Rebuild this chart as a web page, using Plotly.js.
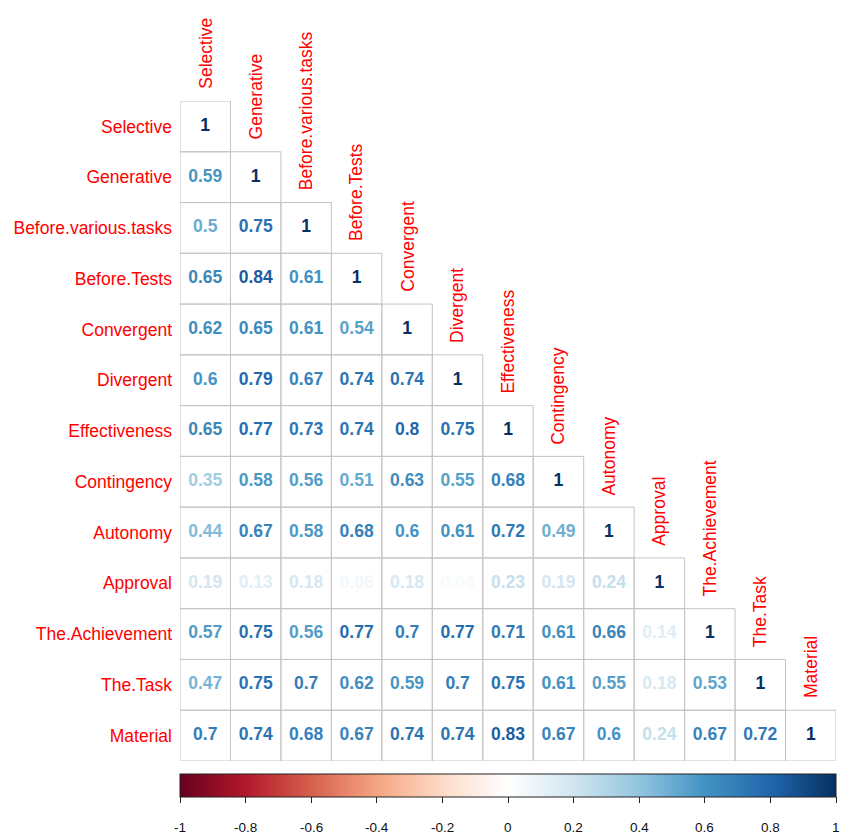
<!DOCTYPE html>
<html>
<head>
<meta charset="utf-8">
<script src="https://cdn.plot.ly/plotly-3.0.1.min.js"></script>
<style>html,body{margin:0;padding:0;background:#fff}#chart{width:844px;height:837px}</style>
</head>
<body>
<div id="chart"></div>
<script>
const variables = ["Selective","Generative","Before.various.tasks","Before.Tests","Convergent","Divergent","Effectiveness","Contingency","Autonomy","Approval","The.Achievement","The.Task","Material"];

const rowSelective = [1];
const rowGenerative = [0.59, 1];
const rowBeforeVarious = [0.5, 0.75, 1];
const rowBeforeTests = [0.65, 0.84, 0.61, 1];
const rowConvergent = [0.62, 0.65, 0.61, 0.54, 1];
const rowDivergent = [0.6, 0.79, 0.67, 0.74, 0.74, 1];
const rowEffectiveness = [0.65, 0.77, 0.73, 0.74, 0.8, 0.75, 1];
const rowContingency = [0.35, 0.58, 0.56, 0.51, 0.63, 0.55, 0.68, 1];
const rowAutonomy = [0.44, 0.67, 0.58, 0.68, 0.6, 0.61, 0.72, 0.49, 1];
const rowApproval = [0.19, 0.13, 0.18, 0.06, 0.18, 0.04, 0.23, 0.19, 0.24, 1];
const rowAchievement = [0.57, 0.75, 0.56, 0.77, 0.7, 0.77, 0.71, 0.61, 0.66, 0.14, 1];
const rowTask = [0.47, 0.75, 0.7, 0.62, 0.59, 0.7, 0.75, 0.61, 0.55, 0.18, 0.53, 1];
const rowMaterial = [0.7, 0.74, 0.68, 0.67, 0.74, 0.74, 0.83, 0.67, 0.6, 0.24, 0.67, 0.72, 1];

const colorbarTicks = [-1, -0.8, -0.6, -0.4, -0.2, 0, 0.2, 0.4, 0.6, 0.8, 1];
const colorbarTickText = ["-1","-0.8","-0.6","-0.4","-0.2","0","0.2","0.4","0.6","0.8","1"];

const rows = [rowSelective,rowGenerative,rowBeforeVarious,rowBeforeTests,rowConvergent,rowDivergent,rowEffectiveness,rowContingency,rowAutonomy,rowApproval,rowAchievement,rowTask,rowMaterial];

const rdbuHex = ["#67001F","#B2182B","#D6604D","#F4A582","#FDDBC7","#FFFFFF","#D1E5F0","#92C5DE","#4393C3","#2166AC","#053061"];
const colorscale = rdbuHex.map((c, k) => [k / (rdbuHex.length - 1), c]);

function hexToRgb(h){return [parseInt(h.slice(1,3),16),parseInt(h.slice(3,5),16),parseInt(h.slice(5,7),16)];}
function colorFor(v){
  const t = (v + 1) / 2 * (rdbuHex.length - 1);
  const k = Math.min(Math.floor(t), rdbuHex.length - 2);
  const f = t - k;
  const a = hexToRgb(rdbuHex[k]), b = hexToRgb(rdbuHex[k+1]);
  const c = a.map((x, n) => Math.round(x + (b[n] - x) * f));
  return `rgb(${c[0]},${c[1]},${c[2]})`;
}

const FONT = 'Liberation Sans, Arial, sans-serif';
const xs = [], ys = [], vals = [], texts = [], cols = [];
const shapes = [];
rows.forEach((row, i) => {
  row.forEach((v, j) => {
    xs.push(j); ys.push(i); vals.push(v); texts.push(String(v)); cols.push(colorFor(v));
    shapes.push({type:'rect', xref:'x', yref:'y', x0:j-0.5, x1:j+0.5, y0:i-0.5, y1:i+0.5,
      line:{color:'#c4c4c4', width:1}, fillcolor:'rgba(0,0,0,0)', layer:'below'});
  });
});

const annotations = variables.map((name, j) => ({
  x: j, y: j - 0.5, xref:'x', yref:'y', text: name, showarrow:false,
  textangle: -90, xanchor:'center', yanchor:'bottom', yshift: 10,
  font:{family:FONT, size:17.5, color:'red'}
}));
// colorbar tick labels placed below the bar
colorbarTicks.forEach((v, k) => {
  annotations.push({x:(v + 1) / 2, y:0, xref:'paper', yref:'paper', yanchor:'middle', xanchor:'center',
    yshift:-66, text: colorbarTickText[k], showarrow:false,
    font:{family:FONT, size:13.5, color:'#111'}});
});

const trace = {
  type:'scatter', mode:'markers+text', x: xs, y: ys, text: texts,
  textposition:'middle center',
  textfont:{family:FONT, size:17.5, color: cols, weight: 'bold'},
  marker:{size:1, opacity:0, color: vals, colorscale: colorscale, cmin:-1, cmax:1, showscale:true,
    colorbar:{orientation:'h', x:0.5, xanchor:'center', len:1, lenmode:'fraction',
      y:-0.02, yanchor:'top', thickness:23, outlinewidth:1, outlinecolor:'#222',
      ticks:'outside', ticklen:6, tickcolor:'#222', tickvals: colorbarTicks, showticklabels:false,
      xpad:0, ypad:0}},
  hoverinfo:'skip', cliponaxis:false
};

const layout = {
  width:844, height:837,
  margin:{l:180, r:8, t:101, b:76},
  paper_bgcolor:'#fff', plot_bgcolor:'#fff',
  showlegend:false,
  xaxis:{range:[-0.5, 12.5], showgrid:false, zeroline:false, showticklabels:false, showline:false, ticks:''},
  yaxis:{range:[12.5, -0.5], showgrid:false, zeroline:false, showline:false, ticks:'',
    tickvals: variables.map((_, i) => i), ticktext: variables, ticklabelstandoff: 7,
    tickfont:{family:FONT, size:17.5, color:'red'}},
  shapes: shapes,
  annotations: annotations
};

Plotly.newPlot('chart', [trace], layout, {displayModeBar:false, staticPlot:true});
</script>
</body>
</html>
